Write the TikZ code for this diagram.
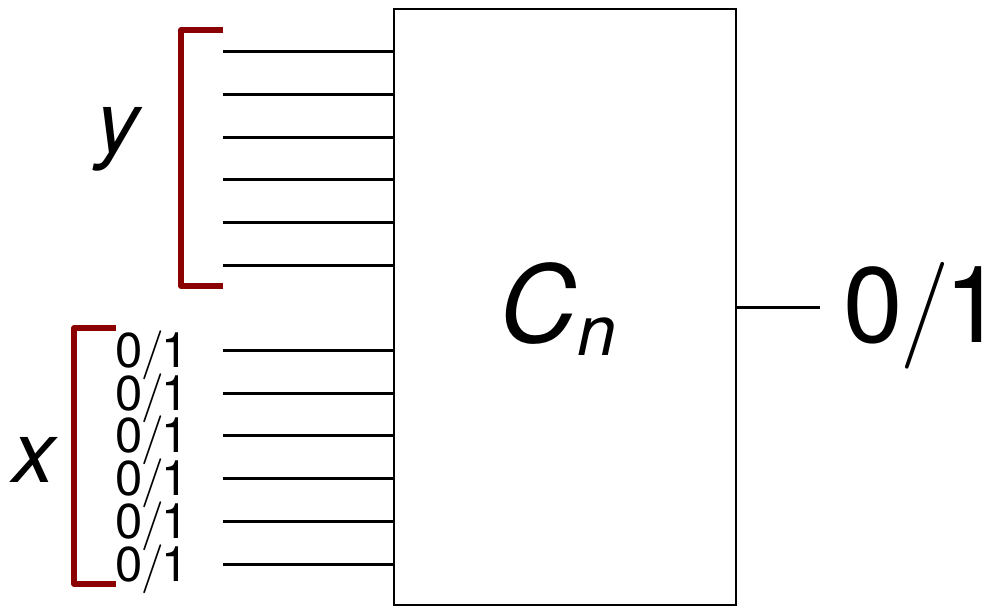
\documentclass[tikz,border=0pt]{standalone}
\usepackage{fontspec}
\setmainfont{TeX Gyre Heros}
\newfontfamily\slashfont{Latin Modern Roman}
\usetikzlibrary{positioning}
\definecolor{bracketred}{RGB}{139,0,0}
\newcommand{\bitslash}{0\kern-0.02em{\slashfont/}\kern-0.05em1}

\begin{document}
\begin{tikzpicture}[
  x=0.5pt, y=-0.5pt,
  box/.style={draw, line width=1.25pt, minimum width=171pt, minimum height=298pt, inner sep=0pt},
  wire/.style={line width=1.5pt},
  bracket/.style={draw=bracketred, line width=2.6pt, line join=round},
  bit/.style={font=\fontsize{24.5}{24.5}\selectfont, inner sep=0pt, anchor=base},
  var/.style={font=\fontsize{43}{43}\selectfont\itshape, inner sep=0pt, anchor=base},
]
\useasboundingbox (0,0) rectangle (992,607);

% --- circuit box ---
\node[box] (cn) at (565,307) {};
\node[font=\fontsize{53.5}{53.5}\selectfont\itshape, inner sep=0pt, anchor=base] (cnlabel) at (558,342)
  {C\raisebox{-6.5pt}{\fontsize{35}{35}\selectfont n}};

% --- output ---
\coordinate (outend) at (820,307);
\draw[wire] (cn.east) -- (outend);
\node[font=\fontsize{53.5}{53.5}\selectfont, inner sep=0pt, anchor=base west] (outbit) at (843,342) {\bitslash};

% --- y inputs ---
\foreach \i/\ly in {1/51, 2/94, 3/137, 4/179, 5/222, 6/265} {
  \coordinate (yin\i) at (223,\ly);
  \draw[wire] (yin\i) -- (yin\i -| cn.west);
}
\draw[bracket] (223,30) -- (181,30) -- (181,286) -- (223,286);
\node[var] (ylabel) at (118,152) {y};

% --- x inputs ---
\foreach \i/\ly in {1/350, 2/393, 3/435, 4/478, 5/521, 6/564} {
  \coordinate (xin\i) at (223,\ly);
  \draw[wire] (xin\i) -- (xin\i -| cn.west);
  \node[bit] (bit\i) at (152,\ly+17.5) {\bitslash};
}
\draw[bracket] (116,328) -- (74,328) -- (74,584) -- (116,584);
\node[var] (xlabel) at (34,482) {x};

\end{tikzpicture}
\end{document}
